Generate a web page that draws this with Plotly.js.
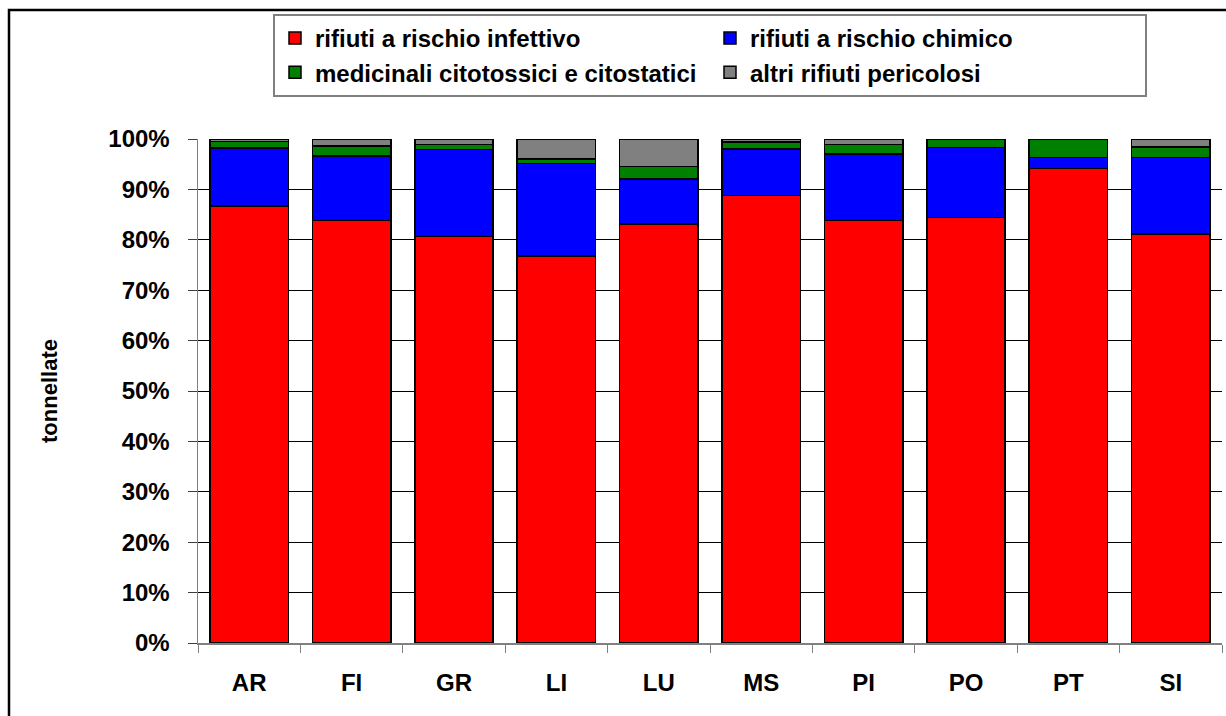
<!DOCTYPE html>
<html>
<head>
<meta charset="utf-8">
<script src="https://cdn.plot.ly/plotly-3.0.1.min.js"></script>
<style>
  html, body { margin: 0; padding: 0; background: #fff; }
  #chart { width: 1226px; height: 716px; }
</style>
</head>
<body>
<div id="chart"></div>
<script>
// Province categories
const categories = ['AR', 'FI', 'GR', 'LI', 'LU', 'MS', 'PI', 'PO', 'PT', 'SI'];

// Series names
const seriesNames = [
  'rifiuti a rischio infettivo',
  'rifiuti a rischio chimico',
  'medicinali citotossici e citostatici',
  'altri rifiuti pericolosi'
];

// Share (%) of each category per province
const infettivo   = [86.7, 83.8, 80.7, 76.8, 83.1, 88.8, 83.8, 84.4, 94.1, 81.2];
const chimico     = [11.5, 12.8, 17.2, 18.3,  9.0,  9.2, 13.2, 13.9,  2.2, 15.1];
const citotossici = [ 1.3,  2.0,  1.0,  0.9,  2.4,  1.4,  1.9,  1.6,  3.6,  2.1];
const altri       = [ 0.5,  1.4,  1.1,  4.0,  5.5,  0.6,  1.1,  0.1,  0.1,  1.6];

const yTickVals = [0, 10, 20, 30, 40, 50, 60, 70, 80, 90, 100];
const yTickText = ['0%', '10%', '20%', '30%', '40%', '50%', '60%', '70%', '80%', '90%', '100%'];

const colors = ['#FF0000', '#0000FF', '#008000', '#808080'];
const seriesValues = [infettivo, chimico, citotossici, altri];

const FONT = 'Liberation Sans, Arial, Helvetica, sans-serif';

const traces = seriesValues.map((vals, i) => ({
  type: 'bar',
  name: seriesNames[i],
  x: categories,
  y: vals,
  marker: { color: colors[i], line: { color: '#000000', width: 1.5 } },
  hoverinfo: 'x+y+name'
}));

// Plot area geometry (px) used to place frame/legend in paper coords
const W = 1226, H = 716;
const mL = 198, mR = 4, mT = 139, mB = 73;
const pw = W - mL - mR, ph = H - mT - mB;
const px2x = p => (p - mL) / pw;
const py2y = p => (H - mB - p) / ph;

const layout = {
  width: W,
  height: H,
  margin: { l: mL, r: mR, t: mT, b: mB, pad: 0 },
  paper_bgcolor: '#ffffff',
  plot_bgcolor: '#ffffff',
  barmode: 'stack',
  bargap: 0.235,
  font: { family: FONT, size: 24, color: '#000000', weight: 700 },
  showlegend: true,
  legend: {
    orientation: 'h',
    xref: 'paper', yref: 'paper',
    x: px2x(273), y: py2y(14),
    xanchor: 'left', yanchor: 'top',
    bgcolor: '#ffffff',
    bordercolor: '#808080',
    borderwidth: 2,
    entrywidth: 390,
    entrywidthmode: 'pixels',
    traceorder: 'normal',
    font: { family: FONT, size: 24, color: '#000000', weight: 700 }
  },
  xaxis: {
    type: 'category',
    categoryorder: 'array',
    categoryarray: categories,
    tickson: 'boundaries',
    ticks: 'outside',
    ticklen: 8,
    tickwidth: 1,
    tickcolor: '#808080',
    showline: true,
    linecolor: '#808080',
    linewidth: 1.5,
    showgrid: false,
    zeroline: false,
    ticklabelstandoff: 18,
    tickfont: { family: FONT, size: 24, color: '#000000', weight: 700 }
  },
  yaxis: {
    range: [0, 100],
    tickmode: 'array',
    tickvals: yTickVals,
    ticktext: yTickText,
    ticks: 'outside',
    ticklen: 9,
    tickwidth: 1,
    tickcolor: '#404040',
    showline: true,
    linecolor: '#808080',
    linewidth: 1.5,
    showgrid: true,
    gridcolor: '#000000',
    gridwidth: 1,
    zeroline: false,
    ticklabelstandoff: 13,
    tickfont: { family: FONT, size: 24, color: '#000000', weight: 700 },
    title: {
      text: 'tonnellate',
      standoff: 44,
      font: { family: FONT, size: 22, color: '#000000', weight: 700 }
    }
  },
  shapes: [
    {
      type: 'rect', xref: 'paper', yref: 'paper', layer: 'above',
      x0: px2x(9), x1: px2x(1240),
      y0: py2y(740), y1: py2y(10),
      line: { color: '#000000', width: 2.5 },
      fillcolor: 'rgba(0,0,0,0)'
    }
  ]
};

Plotly.newPlot('chart', traces, layout, { displayModeBar: false, staticPlot: true });
</script>
</body>
</html>
